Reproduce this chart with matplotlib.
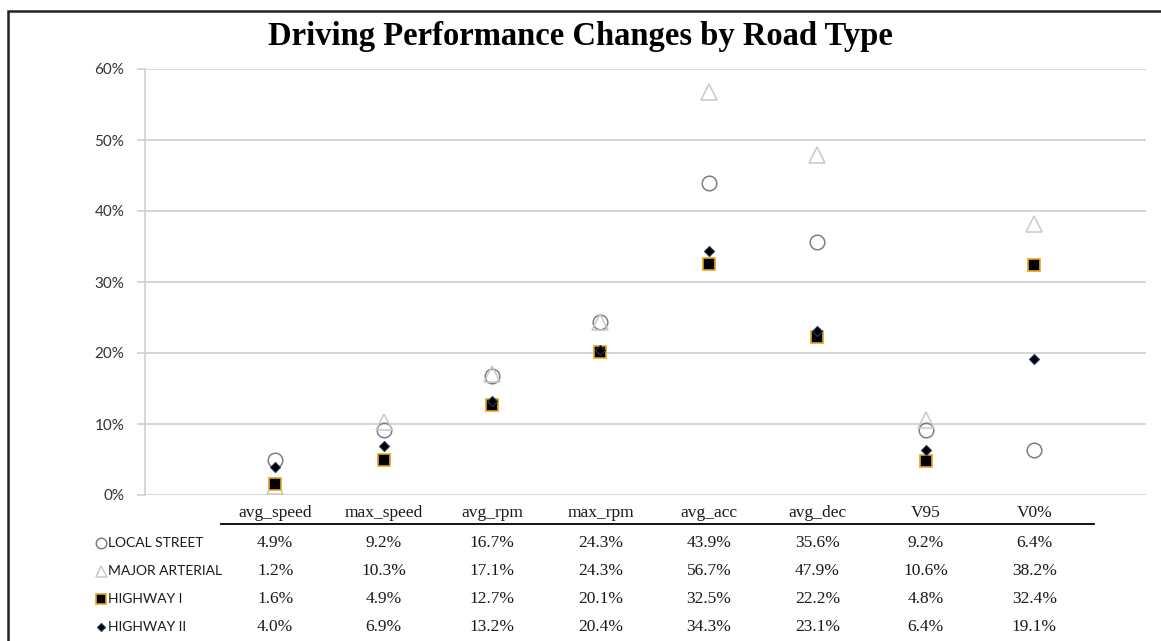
import matplotlib
matplotlib.use("Agg")
import matplotlib.pyplot as plt
from matplotlib.transforms import blended_transform_factory
from matplotlib.ticker import FuncFormatter

# ---- data ----
categories = ["avg_speed", "max_speed", "avg_rpm", "max_rpm", "avg_acc", "avg_dec", "V95", "V0%"]
local_street = [4.9, 9.2, 16.7, 24.3, 43.9, 35.6, 9.2, 6.4]
major_arterial = [1.2, 10.3, 17.1, 24.3, 56.7, 47.9, 10.6, 38.2]
highway_1 = [1.6, 4.9, 12.7, 20.1, 32.5, 22.2, 4.8, 32.4]
highway_2 = [4.0, 6.9, 13.2, 20.4, 34.3, 23.1, 6.4, 19.1]
series_names = ["LOCAL STREET", "MAJOR ARTERIAL", "HIGHWAY I", "HIGHWAY II"]
y_ticks = [0, 10, 20, 30, 40, 50, 60]
title = "Driving Performance Changes by Road Type"

W, H = 1161, 641
fig = plt.figure(figsize=(W / 100, H / 100), dpi=100)

# overlay in pixel coords for border/table
ov = fig.add_axes([0, 0, 1, 1], zorder=0)
ov.set_xlim(0, W)
ov.set_ylim(H, 0)
ov.axis("off")

ax = fig.add_axes([145 / W, 1 - 495 / H, (1146 - 145) / W, (495 - 69) / H], zorder=1)
ax.patch.set_alpha(0)

styles = [
    dict(marker="o", ms=10.5, mfc="none", mec="#7f7f7f", mew=1.1),
    dict(marker="^", ms=11, mfc="none", mec="#c8c8c8", mew=1.1),
    dict(marker="s", ms=9.2, mfc="black", mec="#e8a317", mew=1.2),
    dict(marker="D", ms=5.5, mfc="black", mec="#1f3864", mew=0.8),
]
all_series = [local_street, major_arterial, highway_1, highway_2]
xs = list(range(len(categories)))
for vals, st in zip(all_series, styles):
    ax.plot(xs, vals, linestyle="none", clip_on=False, **st)

ax.set_xlim(-1.2, 8.03)
ax.set_ylim(0, 60)
ax.set_yticks(y_ticks)
ax.yaxis.set_major_formatter(FuncFormatter(lambda v, p: f"{int(v)}%"))
ax.set_xticks([])
ax.grid(axis="y", color="#cfcfcf", linewidth=1.2)
ax.set_axisbelow(True)
for s in ["top", "right", "bottom"]:
    ax.spines[s].set_visible(False)
ax.spines["left"].set_color("#cfcfcf")
ax.spines["left"].set_linewidth(1.2)
ax.tick_params(axis="y", length=6, width=1.2, color="#cfcfcf", pad=9,
               labelsize=11, labelcolor="#333333")
for lab in ax.get_yticklabels():
    lab.set_fontfamily("Lato")

# title
ov.text(580, 36, title, ha="center", va="center", fontsize=23.5,
        fontweight="bold", family="Liberation Serif", color="black")

# border (cropped at right and bottom)
ov.plot([8, 8, W + 5], [H + 5, 11, 11], color="#222222", lw=1.8,
        solid_joinstyle="miter", clip_on=False)

# table
tr = blended_transform_factory(ax.transData, ov.transData)
serif = "Liberation Serif"
header_y = 513
ov.plot([-0.5, 7.55], [524, 524], color="black", lw=1.3, transform=tr, clip_on=False)
for i, c in enumerate(categories):
    ov.text(i, header_y, c, transform=tr, ha="center", va="center",
            fontsize=12.5, family=serif, color="#1a1a1a")
row_y = [543, 571, 599, 627]
for r, (vals, name, st) in enumerate(zip(all_series, series_names, styles)):
    y = row_y[r]
    for i, v in enumerate(vals):
        ov.text(i, y, f"{v:.1f}%", transform=tr, ha="center", va="center",
                fontsize=12.5, family=serif, color="#1a1a1a")
    mst = dict(st)
    mst["ms"] = st["ms"] * 0.72
    ov.plot([101], [y], linestyle="none", **mst)
    ov.text(108, y, name, ha="left", va="center", fontsize=10,
            family="Lato", color="#1a1a1a")

fig.savefig("out.png", dpi=100)
